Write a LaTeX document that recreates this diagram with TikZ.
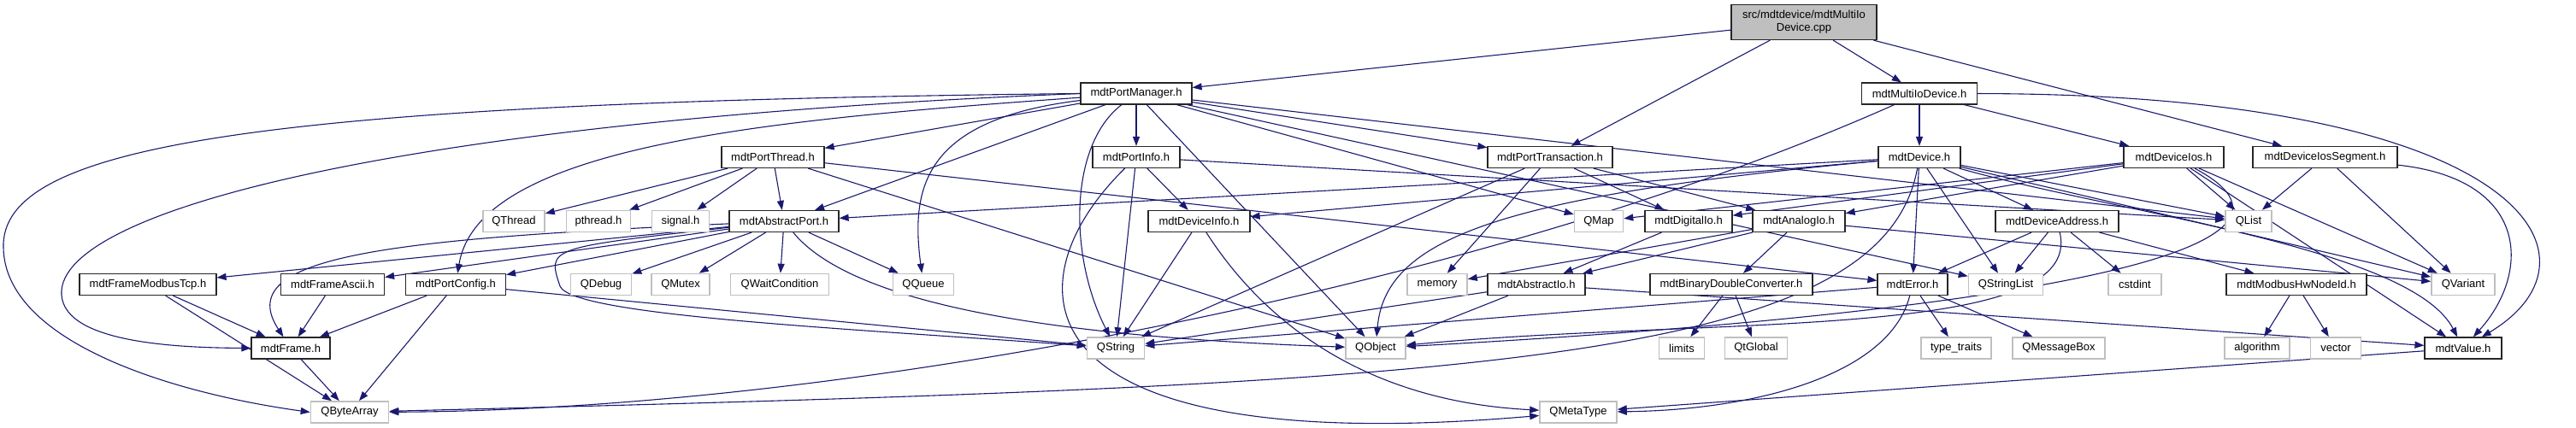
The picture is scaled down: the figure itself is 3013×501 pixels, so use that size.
\documentclass[tikz,border=0pt]{standalone}
\usepackage{fontspec}
\setmainfont{Liberation Sans}
\usetikzlibrary{arrows.meta,backgrounds}
\definecolor{edgeblue}{HTML}{191970}
\definecolor{sysgray}{HTML}{BFBFBF}

\begin{document}
\begin{tikzpicture}[x=0.5pt,y=-0.5pt]
			\tikzstyle{hdr}=[draw=black!85,fill=white,line width=0.6pt,minimum height=12.5pt,inner sep=1pt,font=\fontsize{6.5}{7.5}\selectfont]
			\tikzstyle{sys}=[hdr,draw=sysgray,line width=0.8pt]
			\tikzstyle{root}=[hdr,fill=sysgray,align=center,minimum height=20.5pt]
			\tikzstyle{link}=[draw=edgeblue,line width=0.55pt,-{Triangle[length=5.5pt,width=4pt]}]
			\useasboundingbox (0,0) rectangle (3013,501);
			\node[root,minimum width=85pt] (src) at (2110,26) {src/mdtdevice/mdtMultiIo\\Device.cpp};
			\foreach \name/\x/\y/\w/\txt in {pm/1329/109.5/65/mdtPortManager.h, mio/2245/109.5/67.5/mdtMultiIoDevice.h,
				pthr/904/184/60/mdtPortThread.h, pinfo/1329/184/51/mdtPortInfo.h, ptr/1813/184/73/mdtPortTransaction.h,
				dev/2245/184/48/mdtDevice.h, dios/2542.5/184/58.5/mdtDeviceIos.h, dis/2719.5/184/84.5/mdtDeviceIosSegment.h,
				ap/917/259/64/mdtAbstractPort.h, devinfo/1402.5/259/59.5/mdtDeviceInfo.h, dio/1975/259/51/mdtDigitalIo.h,
				aio/2104/259/54/mdtAnalogIo.h, daddr/2406/259/72/mdtDeviceAddress.h,
				fmtcp/173/333/80/mdtFrameModbusTcp.h, fascii/389/333/60.5/mdtFrameAscii.h, pconf/533/333/58.5/mdtPortConfig.h,
				absio/1797/333/57/mdtAbstractIo.h, bindbl/2025/333/95/mdtBinaryDoubleConverter.h, err/2237/333/41/mdtError.h,
				modbus/2686/333/82/mdtModbusHwNodeId.h, frame/340/407.5/46/mdtFrame.h, value/2881/407.5/45/mdtValue.h}
				\node[hdr,minimum width=\w pt] (\name) at (\x,\y) {\txt};
			\foreach \name/\x/\y/\w/\txt in {qthread/601/259/36/QThread, pthread/700/259/37.5/pthread.h, signal/796/259/33.5/signal.h,
				qmap/1870/259/28.5/QMap, qlist/2630/259/27/QList,
				qdebug/703/333/35.5/QDebug, qmutex/796/333/34/QMutex, qwait/912/333/57.5/QWaitCondition, qqueue/1080/333/35.5/QQueue,
				memory/1681/333/35/memory, qsl/2346/333/43.5/QStringList, cstdint/2497/333/31/cstdint, qvariant/2881/333/37/QVariant,
				qstring/1305/407.5/33.5/QString, qobject/1609/407.5/35/QObject, limits/1967/407.5/26.5/limits,
				qtglobal/2054/407.5/36.5/QtGlobal, ttraits/2288/407.5/41/type\_traits, qmsgbox/2408/407.5/54/QMessageBox,
				algorithm/2640/407.5/38/algorithm, vector/2732/407.5/29.5/vector,
				qbytearray/409/482.5/45.5/QByteArray, qmetatype/1846/482.5/45/QMetaType}
				\node[sys,minimum width=\w pt] (\name) at (\x,\y) {\txt};

			\begin{scope}[on background layer]
			\foreach \a/\b in {src/pm, src/ptr, src/mio, src/dis, mio/dev, mio/dios,
				pm/pthr, pm/pinfo, pm/ptr, pm/ap, pm/qobject, pm/qmap, pm/qlist, pm/qsl,
				pthr/qthread, pthr/pthread, pthr/signal, pthr/ap, pthr/qobject, pthr/err,
				pinfo/devinfo, pinfo/qstring, pinfo/qlist, ptr/dio, ptr/aio, ptr/memory, ptr/qstring,
				dev/ap, dev/devinfo, dev/qlist, dev/qvariant, dev/daddr, dev/err, dev/qsl,
				dios/qmap, dios/dio, dios/aio, dios/qlist, dios/qvariant, dios/value, dis/qlist, dis/qvariant,
				ap/qdebug, ap/qmutex, ap/qwait, ap/qqueue, ap/fmtcp, ap/fascii, ap/pconf, devinfo/qstring,
				fmtcp/frame, fmtcp/qbytearray, fascii/frame, pconf/frame, pconf/qbytearray, pconf/qstring,
				frame/qbytearray, dio/absio, aio/absio, aio/bindbl, aio/memory, aio/qvariant,
				absio/qobject, absio/qstring, absio/value, daddr/err, daddr/qsl, daddr/cstdint, daddr/modbus,
				err/ttraits, err/qmsgbox, err/qstring, bindbl/limits, bindbl/qtglobal,
				modbus/algorithm, modbus/vector, value/qmetatype}
				\path (\a) edge[link] (\b);

			\draw[link] (pm.west) .. controls (300,120) and (0,170) .. (4,290) .. controls (6,400) and (200,460) .. (qbytearray.west);
			\draw[link] (pm.west) .. controls (500,140) and (80,240) .. (72,340) .. controls (68,400) and (200,407) .. (frame.west);
			\draw[link] (pm) .. controls (900,140) and (560,170) .. (pconf);
			\draw[link] (pm) .. controls (1080,140) and (1065,220) .. (qqueue);
			\draw[link] (pm) .. controls (1250,170) and (1250,300) .. (qstring);
			\draw[link] (mio) .. controls (2950,110) and (3060,300) .. (value);
			\draw[link] (mio) .. controls (1750,330) and (1000,480) .. (qbytearray);
			\draw[link] (dev) .. controls (2200,430) and (1700,450) .. (qbytearray);
			\draw[link] (dev) .. controls (1750,230) and (1620,280) .. (qobject);
			\draw[link] (dev) .. controls (2480,250) and (2820,290) .. (value);
			\draw[link] (dios) .. controls (2760,300) and (2300,370) .. (qobject);
			\draw[link] (dis) .. controls (2960,210) and (2960,320) .. (value);
			\draw[link] (pinfo) .. controls (1180,330) and (1180,540) .. (qmetatype);
			\draw[link] (devinfo) .. controls (1480,380) and (1600,470) .. (qmetatype);
			\draw[link] (ap) .. controls (450,280) and (270,300) .. (frame);
			\draw[link] (ap) .. controls (640,290) .. (655,335) .. controls (670,370) and (1000,385) .. (qstring);
			\draw[link] (ap) .. controls (1000,360) and (1250,395) .. (qobject);
			\draw[link] (daddr) .. controls (2440,400) and (2000,370) .. (qobject);
			\draw[link] (err) .. controls (2210,440) and (2050,480) .. (qmetatype);
			\end{scope}
		\end{tikzpicture}
\end{document}
